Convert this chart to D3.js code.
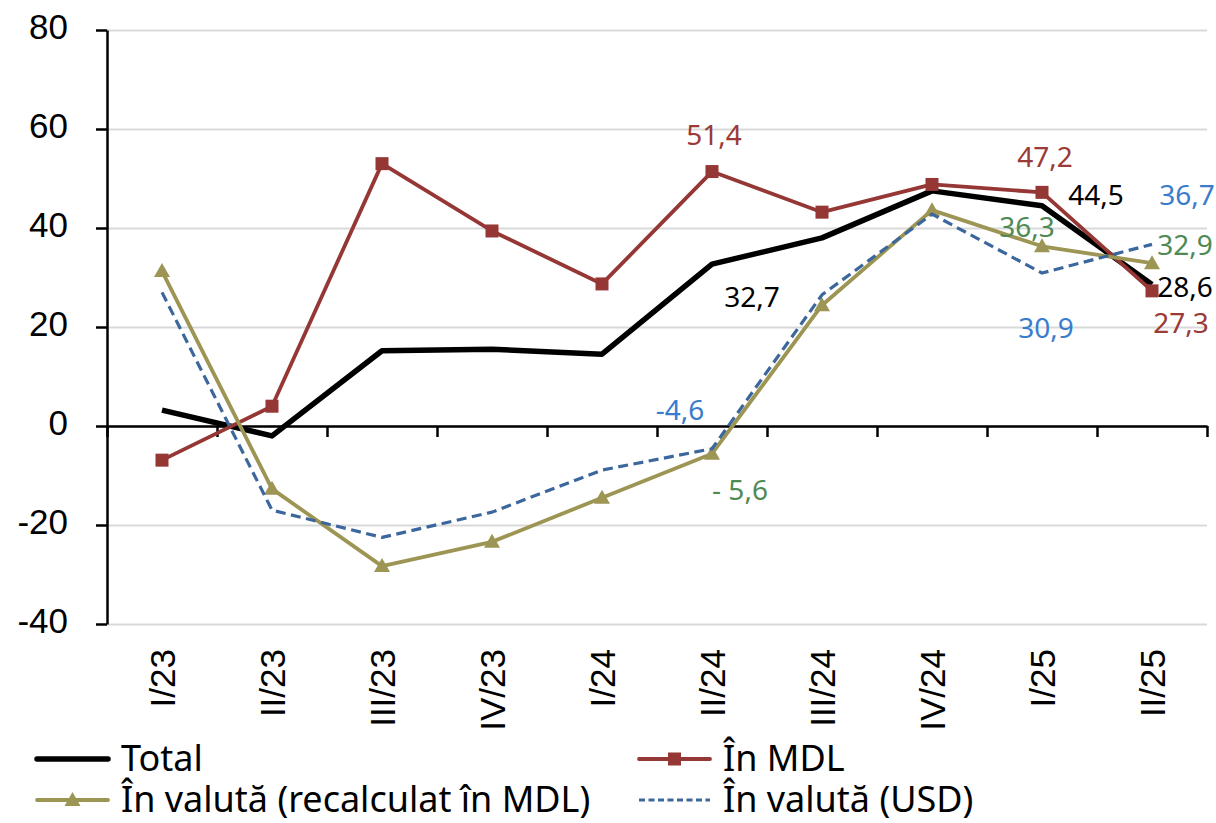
<!DOCTYPE html>
<html>
<head>
<meta charset="utf-8">
<script src="https://cdn.jsdelivr.net/npm/d3@7"></script>
<style>
  body { margin: 0; background: #fff; }
  svg { display: block; font-family: "Noto Sans", "Open Sans", sans-serif; }
</style>
</head>
<body>
<svg id="chart" width="1216" height="823"></svg>
<script>
const categories = ["I/23", "II/23", "III/23", "IV/23", "I/24", "II/24", "III/24", "IV/24", "I/25", "II/25"];
const yTicks = [-40, -20, 0, 20, 40, 60, 80];

const totalValues = [3.2, -2.0, 15.2, 15.5, 14.5, 32.7, 38.0, 47.5, 44.5, 28.6];
const mdlValues = [-6.9, 4.0, 53.0, 39.4, 28.7, 51.4, 43.2, 48.8, 47.2, 27.3];
const fxMdlValues = [31.3, -12.7, -28.3, -23.4, -14.5, -5.6, 24.4, 43.6, 36.3, 32.9];
const fxUsdValues = [27.0, -17.0, -22.5, -17.4, -8.9, -4.6, 26.5, 42.8, 30.9, 36.7];

const seriesNames = ["Total", "În MDL", "În valută (recalculat în MDL)", "În valută (USD)"];

const margin = { top: 30, right: 9, bottom: 199, left: 107 };
const svg = d3.select("#chart");
const width = 1216 - margin.left - margin.right;
const height = 823 - margin.top - margin.bottom;

const x = d3.scaleBand().domain(categories).range([0, width]);
const xb = d3.scaleLinear().domain([0, categories.length]).range([0, width]);
const y = d3.scaleLinear().domain([-40, 80]).range([height, 0]);
const cx = (c) => x(c) + x.bandwidth() / 2;

const series = [
  { name: seriesNames[0], values: totalValues, color: "#000000", width: 5.5, dash: null, marker: null },
  { name: seriesNames[1], values: mdlValues, color: "#953735", width: 3.8, dash: null, marker: "square" },
  { name: seriesNames[2], values: fxMdlValues, color: "#9c9554", width: 3.8, dash: null, marker: "triangle" },
  { name: seriesNames[3], values: fxUsdValues, color: "#3b679c", width: 3.2, dash: "10,5.5", marker: null }
];

// data labels: series index, category index, text, colour, offset from point
const labels = [
  { s: 1, i: 5, text: "51,4", color: "#9b3a37", dx: 2, dy: -27 },
  { s: 0, i: 5, text: "32,7", color: "#000000", dx: 40, dy: 43 },
  { s: 3, i: 5, text: "-4,6", color: "#3a7ccc", dx: -32, dy: -29 },
  { s: 2, i: 5, text: "- 5,6", color: "#4f8a55", dx: 28, dy: 46 },
  { s: 1, i: 8, text: "47,2", color: "#9b3a37", dx: 3, dy: -25 },
  { s: 0, i: 8, text: "44,5", color: "#000000", dx: 54, dy: -1 },
  { s: 2, i: 8, text: "36,3", color: "#4f8a55", dx: -15, dy: -9 },
  { s: 3, i: 8, text: "30,9", color: "#3a7ccc", dx: 4, dy: 65 },
  { s: 3, i: 9, text: "36,7", color: "#3a7ccc", dx: 35, dy: -39 },
  { s: 2, i: 9, text: "32,9", color: "#4f8a55", dx: 33, dy: -8 },
  { s: 0, i: 9, text: "28,6", color: "#000000", dx: 33, dy: 13 },
  { s: 1, i: 9, text: "27,3", color: "#9b3a37", dx: 29, dy: 42 }
];

const g = svg.append("g").attr("transform", `translate(${margin.left},${margin.top})`);

// gridlines
g.append("g")
  .call(d3.axisLeft(y).tickValues(yTicks).tickSize(-width).tickFormat(""))
  .call((a) => a.select(".domain").remove())
  .selectAll("line")
  .attr("stroke", "#d9d9d9")
  .attr("stroke-width", 2);

// y axis
const yAxis = g.append("g")
  .call(d3.axisLeft(y).tickValues(yTicks).tickSize(11).tickSizeOuter(0).tickPadding(28).tickFormat((d) => d));
yAxis.select(".domain").attr("stroke", "#000").attr("stroke-width", 2.5);
yAxis.selectAll("line").attr("stroke", "#000").attr("stroke-width", 2.5);
yAxis.selectAll("text")
  .attr("font-size", 35)
  .attr("fill", "#000")
  .attr("dy", "0.25em");

// x axis along zero, ticks between categories
const zeroAxis = g.append("g")
  .attr("transform", `translate(0,${y(0)})`)
  .call(d3.axisBottom(xb).ticks(categories.length).tickSize(11).tickSizeOuter(0).tickFormat(""));
zeroAxis.select(".domain").attr("stroke", "#000").attr("stroke-width", 2.5);
zeroAxis.selectAll("line").attr("stroke", "#000").attr("stroke-width", 2.5);

// category labels below the plot
const catAxis = g.append("g")
  .attr("transform", `translate(0,${height + 25})`)
  .call(d3.axisBottom(x).tickSize(0).tickPadding(0));
catAxis.select(".domain").remove();
catAxis.selectAll("text")
  .attr("font-size", 35)
  .attr("fill", "#000")
  .attr("text-anchor", "end")
  .attr("transform", "rotate(-90)")
  .attr("x", 0)
  .attr("y", 0)
  .attr("dy", "0.36em");

// lines
const line = d3.line().x((d, i) => cx(categories[i])).y((d) => y(d));

series.forEach((s) => {
  g.append("path")
    .datum(s.values)
    .attr("fill", "none")
    .attr("stroke", s.color)
    .attr("stroke-width", s.width)
    .attr("stroke-linejoin", "round")
    .attr("stroke-dasharray", s.dash)
    .attr("d", line);

  if (s.marker === "square") {
    g.selectAll(null)
      .data(s.values)
      .enter()
      .append("rect")
      .attr("x", (d, i) => cx(categories[i]) - 6.5)
      .attr("y", (d) => y(d) - 6.5)
      .attr("width", 13)
      .attr("height", 13)
      .attr("fill", s.color);
  } else if (s.marker === "triangle") {
    g.selectAll(null)
      .data(s.values)
      .enter()
      .append("path")
      .attr("transform", (d, i) => `translate(${cx(categories[i])},${y(d)})`)
      .attr("d", "M0,-8 L8,6 L-8,6 Z")
      .attr("fill", s.color);
  }
});

// data labels
g.selectAll(".data-label")
  .data(labels)
  .enter()
  .append("text")
  .attr("class", "data-label")
  .attr("x", (d) => cx(categories[d.i]) + d.dx)
  .attr("y", (d) => y(series[d.s].values[d.i]) + d.dy)
  .attr("text-anchor", "middle")
  .attr("font-size", 28)
  .attr("fill", (d) => d.color)
  .text((d) => d.text);

// legend
const legendPos = [
  { x: 37, y: 759 },
  { x: 639, y: 759 },
  { x: 37, y: 800 },
  { x: 639, y: 800 }
];

const legend = svg.append("g");
series.forEach((s, k) => {
  const p = legendPos[k];
  const item = legend.append("g").attr("transform", `translate(${p.x},${p.y})`);
  item.append("line")
    .attr("x1", 0)
    .attr("x2", 71)
    .attr("stroke", s.color)
    .attr("stroke-width", s.width)
    .attr("stroke-linecap", s.dash ? "butt" : "round")
    .attr("stroke-dasharray", s.dash ? "6,3.5" : null);
  if (s.marker === "square") {
    item.append("rect").attr("x", 29).attr("y", -6.5).attr("width", 13).attr("height", 13).attr("fill", s.color);
  } else if (s.marker === "triangle") {
    item.append("path").attr("transform", "translate(35.5,0)").attr("d", "M0,-8 L8,6 L-8,6 Z").attr("fill", s.color);
  }
  item.append("text")
    .attr("x", 84)
    .attr("dy", "0.33em")
    .attr("font-size", 36)
    .attr("fill", "#000")
    .text(s.name);
});
</script>
</body>
</html>
